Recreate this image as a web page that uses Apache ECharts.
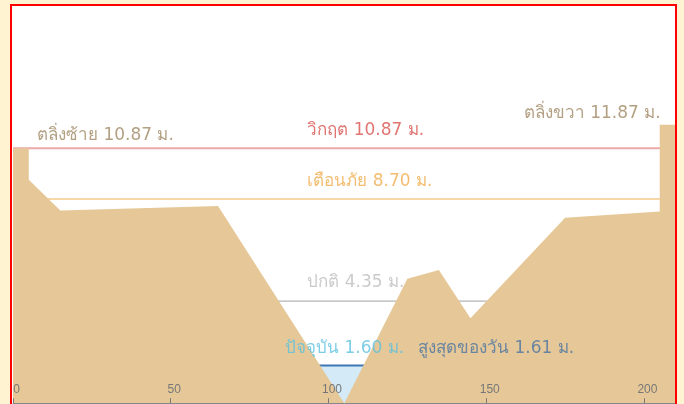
<!DOCTYPE html>
<html><head><meta charset="utf-8">
<script src="https://cdn.jsdelivr.net/npm/echarts@6/dist/echarts.min.js"></script>
<style>
html,body{margin:0;padding:0;background:#fff3d1;width:684px;height:404px;overflow:hidden}
#frame{position:absolute;left:10px;top:4px;width:663px;height:420px;border:2px solid #f00;background:#fff}
#chart{position:absolute;left:0;top:0;width:684px;height:404px}
#overlay{position:absolute;left:10px;top:4px;width:663px;height:420px;border:2px solid #f00;pointer-events:none}
</style></head>
<body>
<div id="frame"></div>
<div id="chart"></div>
<div id="overlay"></div>
<script>
// Ground cross-section profile (distance m, elevation m)
const groundX = [0, 5, 5, 15, 65, 105, 125, 135, 145, 175, 205, 205, 210];
const groundY = [10.87, 10.87, 9.52, 8.21, 8.41, 0, 5.30, 5.68, 3.62, 7.91, 8.17, 11.87, 11.87];
const xTicks = [0, 50, 100, 150, 200];
const xRange = [0, 210];
const yRange = [0, 17];
// Levels
const bankNames = ['ตลิ่งซ้าย', 'ตลิ่งขวา'];
const bankValues = [10.87, 11.87];
const thresholdNames = ['วิกฤต', 'เตือนภัย', 'ปกติ'];
const thresholdValues = [10.87, 8.70, 4.35];
const waterNames = ['ปัจจุบัน', 'สูงสุดของวัน'];
const waterValues = [1.60, 1.61];

const FONT = '"DejaVu Sans", "Noto Sans", sans-serif';
const AXFONT = '"Liberation Sans", sans-serif';
const fmt = (n, v) => n + ' ' + v.toFixed(2) + ' ม.';

const ground = groundX.map((x, i) => [x, groundY[i]]);
const flat = v => [[xRange[0], v], [xRange[1], v]];

const thrColors = ['#eca8a6', '#f8d7a6', '#b4b4b4'];
const thrWidths = [2, 2, 1.3];
const thrText = ['#d9534f', '#f0ad4e', '#bdbdbd'];

function lbl(x, y, text, color, pos, dy) {
  return {
    value: [x, y],
    label: {
      show: true, formatter: text, position: pos, distance: 0,
      offset: [0, dy], color: color, fontSize: 17, fontFamily: FONT
    }
  };
}

const labelData = [
  lbl(7.6, bankValues[0], fmt(bankNames[0], bankValues[0]), '#a08864', 'right', -12.5),
  lbl(groundX[10] + 0.3, bankValues[1], fmt(bankNames[1], bankValues[1]), '#a08864', 'left', -11.5),
  lbl(93.3, thresholdValues[0], fmt(thresholdNames[0], thresholdValues[0]), thrText[0], 'right', -17.5),
  lbl(93.3, thresholdValues[1], fmt(thresholdNames[1], thresholdValues[1]), thrText[1], 'right', -17.5),
  lbl(93.3, thresholdValues[2], fmt(thresholdNames[2], thresholdValues[2]), thrText[2], 'right', -18.5),
  lbl(124, waterValues[0], fmt(waterNames[0], waterValues[0]), '#5bc0de', 'left', -17),
  lbl(128.4, waterValues[1], fmt(waterNames[1], waterValues[1]), '#4a74a3', 'right', -17)
];

const series = [];
thresholdValues.forEach((v, i) => {
  series.push({
    type: 'line', z: 1, data: flat(v), symbol: 'none', silent: true,
    lineStyle: { color: thrColors[i], width: thrWidths[i] }
  });
});
series.push({
  type: 'line', z: 2, data: flat(waterValues[0]), symbol: 'none', silent: true,
  lineStyle: { width: 0 }, areaStyle: { color: '#d4eaf6', opacity: 1 }
});
series.push({
  type: 'line', z: 2, data: flat(waterValues[1]), symbol: 'none', silent: true,
  lineStyle: { color: '#3f77b5', width: 2 }
});
series.push({
  type: 'line', z: 3, data: ground, symbol: 'none', silent: true,
  lineStyle: { width: 0 }, areaStyle: { color: '#e6c898', opacity: 1 }
});
series.push({
  type: 'scatter', z: 5, data: labelData, symbolSize: 0, silent: true
});

const chart = echarts.init(document.getElementById('chart'), null, { renderer: 'canvas' });
chart.setOption({
  animation: false,
  backgroundColor: 'transparent',
  grid: { left: 13, right: 8.5, top: 4.4, bottom: 0.8, containLabel: false },
  xAxis: {
    type: 'value', min: xRange[0], max: xRange[1], interval: 50, z: 10,
    axisLine: { show: true, lineStyle: { color: '#888', width: 1 } },
    axisTick: { show: true, inside: true, length: 5, lineStyle: { color: '#777' } },
    axisLabel: {
      show: true, inside: true, margin: 8, fontSize: 12, color: '#777', fontFamily: AXFONT,
      padding: [0, 0, 0, 7],
      formatter: v => xTicks.indexOf(v) >= 0 ? String(v) : ''
    },
    splitLine: { show: false }
  },
  yAxis: {
    type: 'value', min: yRange[0], max: yRange[1], show: false
  },
  series: series
});
</script>
</body></html>
